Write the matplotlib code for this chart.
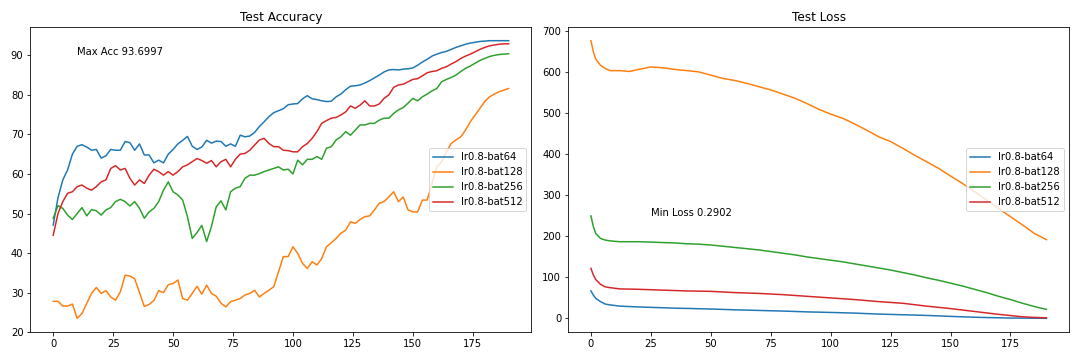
import matplotlib.pyplot as plt


LABELS = ["lr0.8-bat64", "lr0.8-bat128", "lr0.8-bat256", "lr0.8-bat512"]

ACC_EPOCHS = list(range(0, 191, 2))

ACC_BAT64 = [
    47.1, 54.0, 58.5, 61.0, 65.0, 67.0, 67.4, 66.8, 66.0, 66.2,
    64.0, 64.6, 66.2, 66.0, 66.0, 68.2, 67.9, 66.0, 67.6, 64.8,
    64.8, 62.8, 63.5, 62.8, 65.0, 66.2, 67.6, 68.5, 69.5, 67.0,
    66.2, 66.8, 68.5, 67.8, 68.3, 68.2, 67.0, 67.6, 67.0, 69.8,
    69.4, 69.6, 70.5, 72.0, 73.2, 74.5, 75.5, 76.0, 76.5, 77.5,
    77.7, 77.8, 79.0, 79.8, 79.0, 78.8, 78.5, 78.3, 78.4, 79.5,
    80.2, 81.3, 82.2, 82.3, 82.5, 83.0, 83.6, 84.3, 85.0, 85.8,
    86.3, 86.4, 86.3, 86.5, 86.6, 86.8, 87.5, 88.3, 89.0, 89.8,
    90.3, 90.7, 91.0, 91.5, 92.0, 92.4, 92.8, 93.1, 93.3, 93.5,
    93.6, 93.7, 93.7, 93.7, 93.7, 93.7,
]
ACC_BAT128 = [
    27.8, 27.8, 26.6, 26.6, 27.1, 23.5, 24.7, 27.3, 29.8, 31.3,
    29.8, 30.5, 28.9, 28.1, 30.2, 34.4, 34.2, 33.5, 30.0, 26.5,
    27.0, 28.0, 30.5, 30.0, 32.0, 32.3, 33.2, 28.5, 28.1, 29.8,
    31.6, 29.6, 31.9, 29.8, 29.1, 27.3, 26.4, 27.7, 28.1, 28.5,
    29.4, 29.8, 30.6, 28.9, 29.8, 30.6, 31.5, 35.3, 39.1, 39.1,
    41.6, 39.9, 37.4, 36.1, 37.8, 37.0, 38.6, 41.6, 42.6, 43.7,
    45.0, 45.8, 47.9, 47.5, 48.5, 49.2, 49.4, 50.9, 52.6, 53.0,
    54.2, 55.5, 53.0, 54.2, 50.9, 50.4, 50.4, 53.4, 53.4, 57.6,
    61.8, 63.1, 65.6, 67.7, 68.6, 69.4, 71.1, 73.2, 74.9, 76.6,
    78.3, 79.5, 80.2, 80.8, 81.2, 81.6,
]
ACC_BAT256 = [
    48.8, 52.0, 51.3, 49.6, 48.5, 50.0, 51.5, 49.4, 51.0, 50.7,
    49.6, 50.9, 51.5, 53.0, 53.6, 53.0, 51.9, 53.0, 51.3, 48.8,
    50.4, 51.3, 53.0, 55.9, 58.0, 55.5, 54.7, 53.4, 49.2, 43.7,
    45.2, 47.0, 42.9, 46.7, 51.7, 53.2, 50.9, 55.5, 56.4, 56.8,
    58.9, 59.7, 59.7, 60.1, 60.6, 61.0, 61.4, 61.8, 61.0, 61.2,
    60.0, 63.5, 62.3, 63.7, 63.7, 64.4, 63.7, 66.5, 66.9, 68.6,
    69.4, 70.7, 69.8, 71.1, 72.4, 72.4, 72.8, 72.8, 73.6, 74.1,
    74.1, 75.3, 76.2, 76.8, 77.9, 79.1, 78.5, 79.5, 80.2, 81.0,
    81.6, 83.3, 83.9, 84.4, 85.0, 85.9, 86.7, 87.3, 88.0, 88.7,
    89.2, 89.7, 90.0, 90.2, 90.3, 90.4,
]
ACC_BAT512 = [
    44.5, 50.0, 53.0, 55.1, 55.5, 56.8, 57.2, 56.4, 55.9, 56.8,
    58.0, 58.5, 61.4, 62.1, 61.0, 61.4, 58.9, 57.2, 58.5, 57.6,
    59.7, 61.2, 60.6, 59.7, 60.6, 59.7, 60.6, 61.8, 62.3, 63.1,
    63.9, 63.4, 62.7, 63.4, 61.8, 63.1, 63.7, 61.8, 63.7, 65.0,
    65.2, 66.0, 67.3, 68.6, 69.0, 67.7, 66.9, 66.9, 66.0, 65.9,
    65.6, 65.6, 66.9, 67.7, 69.0, 70.7, 72.8, 73.5, 74.1, 74.3,
    74.9, 75.7, 77.2, 76.6, 77.4, 78.5, 77.2, 77.2, 77.7, 79.1,
    80.0, 81.9, 82.5, 82.7, 83.3, 83.9, 84.1, 84.8, 85.6, 85.9,
    86.1, 86.7, 87.1, 87.8, 88.4, 89.2, 89.8, 90.3, 90.9, 91.5,
    92.0, 92.4, 92.6, 92.8, 92.9, 92.9,
]

LOSS_EPOCHS = [0, 1, 2, 4, 6, 8, 12, 16] + list(range(20, 191, 5))

LOSS_BAT64 = [
    67, 57, 49, 41, 35, 33, 30, 29,
    28, 27, 26, 25, 24.4, 23.7, 23, 22, 21, 20.3, 19.5, 18.7, 18, 17,
    16, 15.3, 14.6, 13.8, 13, 11.8, 10.6, 9.8, 9, 8.2, 7.3, 6.2, 5, 4,
    3, 2.2, 1.6, 1.0, 0.8, 0.5, 0.2902,
]
LOSS_BAT128 = [
    677, 650, 632, 617, 609, 604, 604, 602,
    607, 613, 611, 607, 604, 601, 593, 585, 580, 573, 565, 557, 547, 537,
    524, 510, 498, 488, 474, 459, 443, 431, 415, 398, 382, 366, 347, 329,
    309, 289, 268, 248, 228, 207, 192,
]
LOSS_BAT256 = [
    250, 224, 207, 195, 191, 189, 187, 187,
    187, 186, 185, 184, 182, 181, 179, 176, 173, 170, 167, 163, 159, 155,
    150, 146, 142, 138, 133, 128, 123, 118, 112, 106, 99, 93, 86, 79,
    71, 63, 54, 46, 37, 29, 22,
]
LOSS_BAT512 = [
    122, 106, 95, 83, 77, 75, 72, 71.5,
    71, 70, 69, 68, 67, 66.5, 66, 64.5, 63, 62, 61, 59.5, 58, 56,
    54, 52, 50, 48, 46, 43.5, 41, 39, 37, 33.5, 30, 27, 24, 20.5,
    17, 13.5, 10, 7, 4, 2.5, 1.5,
]


def draw_panel(ax, epochs, series, title):
    for values, label in zip(series, LABELS):
        ax.plot(epochs, values, label=label)
    ax.set_title(title)
    ax.legend(loc="center right")


def main() -> None:
    fig, (ax_acc, ax_loss) = plt.subplots(1, 2, figsize=(15, 5), dpi=72)

    draw_panel(
        ax_acc,
        ACC_EPOCHS,
        [ACC_BAT64, ACC_BAT128, ACC_BAT256, ACC_BAT512],
        "Test Accuracy",
    )
    ax_acc.text(10, 90, "Max Acc 93.6997")

    draw_panel(
        ax_loss,
        LOSS_EPOCHS,
        [LOSS_BAT64, LOSS_BAT128, LOSS_BAT256, LOSS_BAT512],
        "Test Loss",
    )
    ax_loss.text(25, 250, "Min Loss 0.2902")

    fig.tight_layout()
    fig.savefig("out.png", dpi=72)
    plt.close(fig)


if __name__ == "__main__":
    main()
